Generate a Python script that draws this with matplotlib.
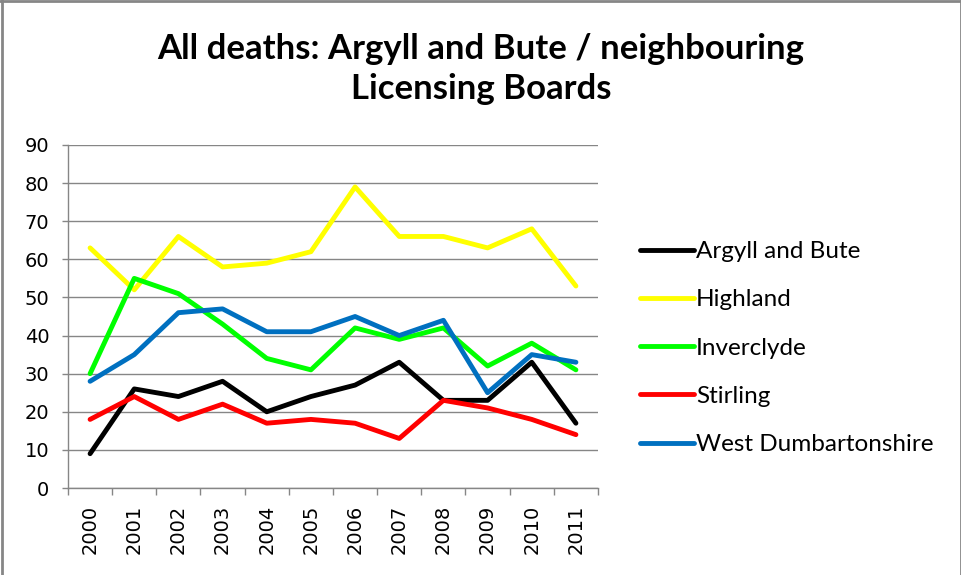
import matplotlib
matplotlib.use('Agg')
import matplotlib.pyplot as plt
from matplotlib.lines import Line2D

years = ['2000', '2001', '2002', '2003', '2004', '2005',
         '2006', '2007', '2008', '2009', '2010', '2011']

argyll = [9, 26, 24, 28, 20, 24, 27, 33, 23, 23, 33, 17]
highland = [63, 52, 66, 58, 59, 62, 79, 66, 66, 63, 68, 53]
inverclyde = [30, 55, 51, 43, 34, 31, 42, 39, 42, 32, 38, 31]
stirling = [18, 24, 18, 22, 17, 18, 17, 13, 23, 21, 18, 14]
west_dunb = [28, 35, 46, 47, 41, 41, 45, 40, 44, 25, 35, 33]

series = [
    ('Argyll and Bute', argyll, '#000000'),
    ('Highland', highland, '#FFFF00'),
    ('Inverclyde', inverclyde, '#00FF00'),
    ('Stirling', stirling, '#FF0000'),
    ('West Dumbartonshire', west_dunb, '#0070C0'),
]

grey = '#868686'

fig = plt.figure(figsize=(9.62, 5.75), dpi=100)
ax = fig.add_axes([68 / 962, 87 / 575, 530 / 962, 343 / 575])

x = list(range(len(years)))
for name, vals, col in series:
    ax.plot(x, vals, color=col, linewidth=3.5, label=name, solid_capstyle='round')

ax.set_xlim(-0.5, len(years) - 0.5)
ax.set_ylim(0, 90)
ax.set_yticks(range(0, 91, 10))
ax.yaxis.grid(True, color=grey, linewidth=1)
ax.set_axisbelow(True)

ax.set_xticks(x)
ax.set_xticklabels(years, rotation=90, va='top', ha='center')
ax.set_xticks([i - 0.5 for i in range(len(years) + 1)], minor=True)
ax.tick_params(axis='x', which='major', length=0, pad=12)
ax.tick_params(axis='x', which='minor', length=5, color=grey, width=1)
ax.tick_params(axis='y', length=4.5, color=grey, width=1, pad=9)

for lab in ax.get_xticklabels() + ax.get_yticklabels():
    lab.set_fontfamily('DejaVu Sans')
    lab.set_fontsize(14)

for side in ['top', 'right']:
    ax.spines[side].set_visible(False)
for side in ['left', 'bottom']:
    ax.spines[side].set_color(grey)
    ax.spines[side].set_linewidth(1)

fig.text(0.5, 1 - 69 / 575, 'All deaths: Argyll and Bute / neighbouring\nLicensing Boards',
         ha='center', va='center', fontsize=25, fontweight='bold',
         family='Lato', linespacing=1.3)

ax.legend(loc='upper left', bbox_to_anchor=(628 / 962, 1 - 229 / 575),
          bbox_transform=fig.transFigure, frameon=False,
          prop={'family': 'Lato', 'size': 17.5}, handlelength=2.2,
          handletextpad=0.1, labelspacing=1.12, borderpad=0)

# chart border
for xs, ys in [((0.002, 0.002), (0, 1)), ((0.999, 0.999), (0, 1)), ((0, 1), (0.998, 0.998))]:
    fig.add_artist(Line2D(xs, ys, transform=fig.transFigure, color=grey, linewidth=2))

fig.savefig('out.png', dpi=100)
